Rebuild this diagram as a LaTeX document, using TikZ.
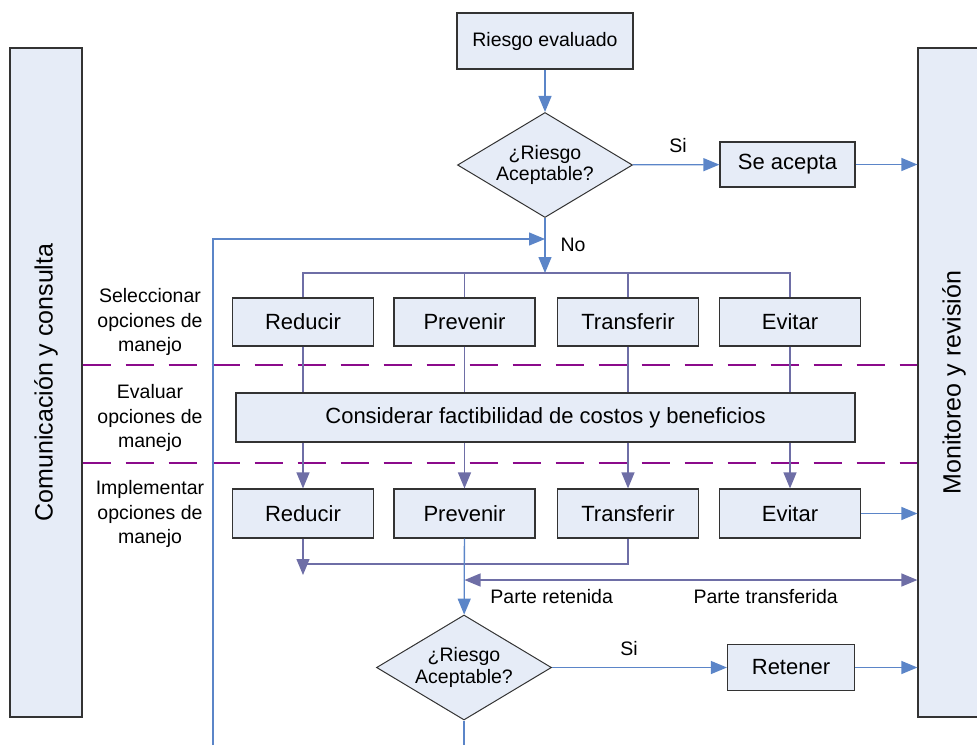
\documentclass[tikz,border=0pt]{standalone}
\usepackage{fontspec}
\setmainfont{Liberation Sans}
\usetikzlibrary{shapes.geometric,arrows.meta}
\definecolor{boxfill}{HTML}{E6ECF7}
\definecolor{boxline}{HTML}{333333}
\definecolor{linkblue}{HTML}{5B85C8}
\definecolor{linkslate}{HTML}{6E6EA6}
\definecolor{lanedash}{HTML}{8B0A8B}
\tikzset{
  box/.style={draw=boxline,fill=boxfill,line width=1.2pt,inner sep=0pt,font=\fontsize{22}{26}\selectfont},
  decision/.style={diamond,draw=boxline,fill=boxfill,line width=1pt,inner sep=0pt,aspect=1.67,
    minimum width=175pt,minimum height=105pt,align=center,font=\fontsize{19.5}{21.5}\selectfont},
  bar/.style={draw=boxline,fill=boxfill,line width=1.2pt,inner sep=0pt,minimum width=72pt,
    minimum height=669pt,font=\fontsize{25}{30}\selectfont},
  lane/.style={align=center,font=\fontsize{19.5}{24.5}\selectfont},
  tag/.style={font=\fontsize{19.5}{22}\selectfont},
  blueline/.style={draw=linkblue,line width=1.3pt},
  slateline/.style={draw=linkslate,line width=1.3pt},
  bluearrow/.style={blueline,-{Triangle[length=16pt,width=13pt]}},
  slatearrow/.style={slateline,-{Triangle[length=16pt,width=13pt]}},
  lanesep/.style={draw=lanedash,line width=1.3pt,dash pattern=on 28pt off 15pt}
}
\begin{document}
\begin{tikzpicture}[x=1pt,y=-1pt]
\clip(0,0)rectangle(977,745);
% side bars
\node[bar](comm)at(46,382.5){\rotatebox{90}{Comunicación y consulta}};
\node[bar](monitor)at(954,382.5){\rotatebox{90}{Monitoreo y revisión}};
% lanes
\coordinate(laneA)at(0,365);
\coordinate(laneB)at(0,463);
\draw[lanesep](comm.east|-laneA)--(monitor.west|-laneA);
\draw[lanesep](comm.east|-laneB)--(monitor.west|-laneB);
\node[lane](selec)at(150,322){Seleccionar\\opciones de\\manejo};
\node[lane](evalu)at(150,418){Evaluar\\opciones de\\manejo};
\node[lane](imple)at(150,514){Implementar\\opciones de\\manejo};
% top
\node[box,minimum width=176pt,minimum height=56pt,font=\fontsize{19.5}{22}\selectfont](riesgo)at(545,41){Riesgo evaluado};
\node[decision](dec1)at(545,165){¿Riesgo\\Aceptable?};
\node[box,minimum width=135pt,minimum height=45pt](acepta)at(787.5,164.5){Se acepta};
\node[tag](si1)at(678,146){Si};
\draw[bluearrow](riesgo)--(dec1);
\draw[bluearrow](dec1)--(acepta);
\draw[bluearrow](acepta)--(monitor.west|-acepta);
% options
\foreach\n/\t/\x in{red/Reducir/303,prev/Prevenir/464.5,trans/Transferir/628,evit/Evitar/790}{
\node[box,minimum width=141pt,minimum height=48pt](\n1)at(\x,322){\t};
\node[box,minimum width=141pt,minimum height=49pt](\n3)at(\x,513.5){\t};}
\node[box,minimum width=619pt,minimum height=49pt](consid)at(545.5,417.5){Considerar factibilidad de costos y beneficios};
\coordinate(loopin)at(545,239);
\coordinate(loopfoot)at(213,745);
\coordinate(fork)at(545,273);
\draw[bluearrow](loopfoot)|-(loopin);
\draw[bluearrow](dec1)--(fork);
\node[tag](no)at(573,245){No};
\foreach\n in{red,prev,trans,evit}{
\draw[slateline](fork)-|(\n1);
\draw[slateline](\n1)--(\n1|-consid.north);
\draw[slatearrow](\n3|-consid.south)--(\n3);}
% implement
\coordinate(redtip)at(303,575);
\coordinate(join)at(303,564);
\coordinate(hand)at(628,580);
\draw[slatearrow](red3)--(redtip);
\draw[slateline](trans3)|-(join);
\draw[bluearrow](evit3)--(monitor.west|-evit3);
\draw[slatearrow](hand)--(prev3.south|-hand);
\draw[slatearrow](hand)--(monitor.west|-hand);
\node[tag](kept)at(551.7,597){Parte retenida};
\node[tag](passed)at(765.7,597){Parte transferida};
% retain
\node[decision](dec2)at(464,667.5){¿Riesgo\\Aceptable?};
\node[box,minimum width=127pt,minimum height=46pt](ret)at(791,667.5){Retener};
\node[tag](si2)at(629,649){Si};
\coordinate(dec2out)at(464,745);
\draw[bluearrow](prev3)--(dec2);
\draw[bluearrow](dec2)--(ret);
\draw[bluearrow](ret)--(monitor.west|-ret);
\draw[blueline](dec2)--(dec2out);
\end{tikzpicture}
\end{document}
